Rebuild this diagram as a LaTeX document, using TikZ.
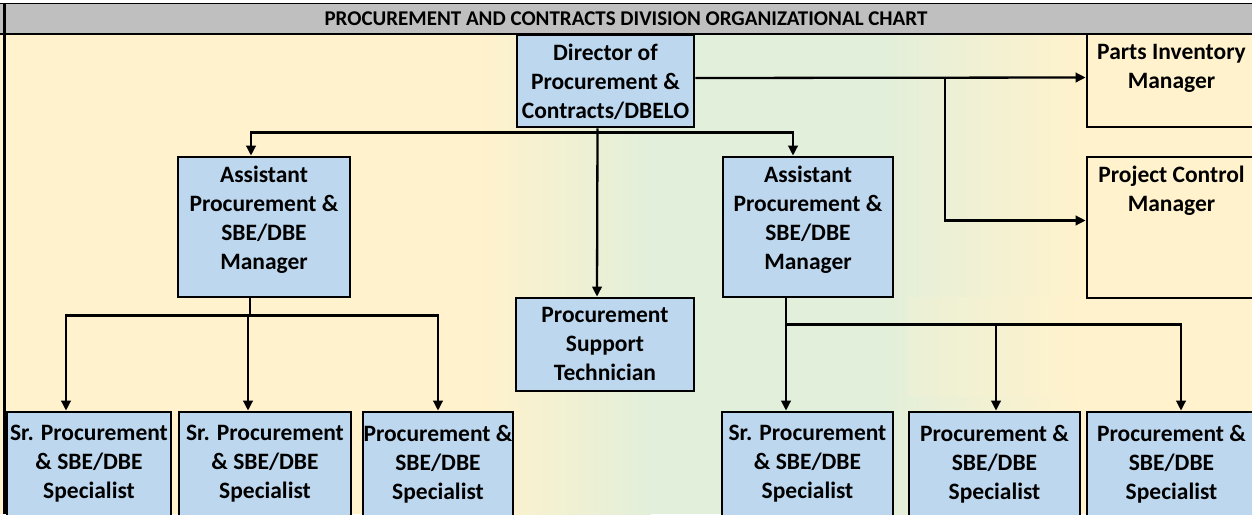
\documentclass[tikz,border=0pt]{standalone}
\usepackage{fontspec}
\setmainfont{Carlito}
\usetikzlibrary{
	arrows.meta,
	positioning,
	calc,
}

\definecolor{cream}{HTML}{FFF2CC}
\definecolor{sage}{HTML}{E2EFDA}
\definecolor{boxblue}{HTML}{BDD7EE}
\definecolor{bargray}{HTML}{BFBFBF}

\begin{document}
\begin{tikzpicture}[
	x=1pt,y=-1pt,
	>={Triangle[length=10pt,width=9.5pt]},
	post/.style={draw=black,line width=2.8pt,inner sep=0pt},
	bluepost/.style={post,fill=boxblue},
	creampost/.style={post,fill=cream},
	boxsize/.style 2 args={minimum width=#1,minimum height=#2},
	boxtext/.style={anchor=north,align=center,inner sep=0pt,yshift=-10pt,
		font=\fontsize{23.5}{29}\selectfont\bfseries},
	lowtext/.style={boxtext,yshift=-4pt},
	link/.style={line width=2.3pt},
	]
	\useasboundingbox (0,0) rectangle (1252,514);
	\clip (0,0) rectangle (1252,514);

	%% background
	\fill[white] (0,0) rectangle (1252,3);
	\fill[cream] (0,34) rectangle (481,514);
	\shade[left color=cream,right color=sage] (480,34) rectangle (651,514);
	\fill[sage] (650,34) rectangle (881,514);
	\shade[left color=sage,right color=cream] (880,34) rectangle (1081,514);
	\fill[cream] (1080,34) rectangle (1252,514);
	\shade[left color=sage!70!cream,right color=cream] (908,297) rectangle (1078,396);

	%% title bar
	\fill[bargray] (0,3) rectangle (1252,34);
	\draw[line width=1pt] (0,3) -- (1252,3);
	\draw[line width=2.4pt] (0,34) -- (1252,34);
	\draw[line width=2.4pt] (4.5,3) -- (4.5,514);
	\node[font=\fontsize{21}{24}\selectfont\bfseries] (title) at (626,18.5) {PROCUREMENT AND CONTRACTS DIVISION ORGANIZATIONAL CHART};

	%% line 1
	\node[bluepost,boxsize={177}{92},label={[boxtext]north:Director of\\Procurement \&\\Contracts/DBELO}] (dir) at (605.5,81) {};
	\node[creampost,boxsize={169}{93},label={[boxtext,yshift=-1pt]north:Parts Inventory\\Manager}] (parts) at (1171.5,80.5) {};

	%% line 2
	\node[bluepost,boxsize={172}{140},label={[boxtext]north:Assistant\\Procurement \&\\SBE/DBE\\Manager}] (astL) at (264,227) {};
	\node[bluepost,boxsize={170}{140},label={[boxtext]north:Assistant\\Procurement \&\\SBE/DBE\\Manager}] (astR) at (808,227) {};
	\node[creampost,boxsize={169}{141},label={[boxtext]north:Project Control\\Manager}] (proj) at (1171.5,227.5) {};
	\node[bluepost,boxsize={178}{93},label={[boxtext]north:Procurement\\Support\\Technician}] (tech) at (605,344.5) {};

	%% line 3
	\node[bluepost,boxsize={164}{106},label={[lowtext]north:Sr. Procurement\\\& SBE/DBE\\Specialist}] (spec1) at (89,465) {};
	\node[bluepost,boxsize={172}{106},label={[lowtext]north:Sr. Procurement\\\& SBE/DBE\\Specialist}] (spec2) at (265,465) {};
	\node[bluepost,boxsize={150}{106},label={[lowtext]north:Procurement \&\\SBE/DBE\\Specialist}] (spec3) at (438,465) {};
	\node[bluepost,boxsize={171}{106},label={[lowtext]north:Sr. Procurement\\\& SBE/DBE\\Specialist}] (spec4) at (807.5,465) {};
	\node[bluepost,boxsize={171}{106},label={[lowtext]north:Procurement \&\\SBE/DBE\\Specialist}] (spec5) at (994.5,465) {};
	\node[bluepost,boxsize={169}{106},label={[lowtext]north:Procurement \&\\SBE/DBE\\Specialist}] (spec6) at (1171.5,465) {};

	%% from the director
	\draw[link,->] ([yshift=3pt]dir.east) -- ([yshift=3pt]parts.west);
	\coordinate (jR) at ([yshift=3pt]$(dir.east)!0.64!(parts.west)$);
	\draw[link,->] (jR) |- ([yshift=7pt]proj.west);
	\coordinate (bus) at ([xshift=-8pt,yshift=-4pt]dir.south);
	\draw[link,->] ([xshift=-8pt]dir.south) -- ([xshift=-8pt]tech.north);
	\draw[link,->] (bus) -| ([xshift=-13pt]astL.north);
	\draw[link,->] (bus) -| ([xshift=-15pt]astR.north);

	%% left assistant
	\coordinate (busL) at ([xshift=-14pt,yshift=-17pt]astL.south);
	\draw[link] ([xshift=-14pt]astL.south) -- (busL);
	\draw[link,->] (busL) -| ([xshift=-23pt]spec1.north);
	\draw[link,->] (busL) -| ([xshift=-17pt]spec2.north);
	\draw[link,->] (busL) -| (spec3.north);

	%% right assistant
	\coordinate (busR) at ([xshift=-22pt,yshift=-26pt]astR.south);
	\draw[link] ([xshift=-22pt]astR.south) -- (busR);
	\draw[link,->] (busR) -- (busR |- spec4.north);
	\draw[link,->] (busR) -| ([xshift=1.5pt]spec5.north);
	\draw[link,->] (busR) -| ([xshift=9.5pt]spec6.north);

\end{tikzpicture}
\end{document}
